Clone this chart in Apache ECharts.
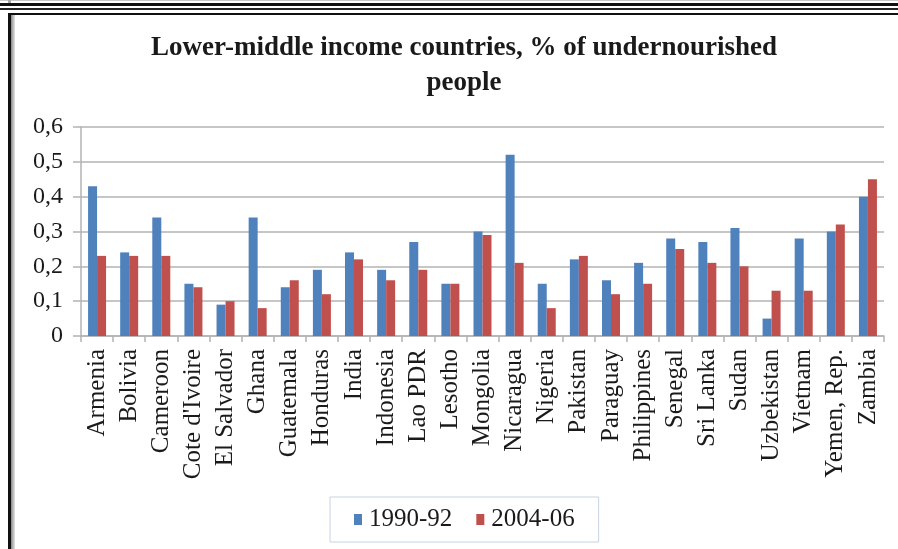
<!DOCTYPE html>
<html>
<head>
<meta charset="utf-8">
<script src="https://cdn.jsdelivr.net/npm/echarts@6/dist/echarts.min.js"></script>
<style>
  html, body { margin: 0; padding: 0; background: #fff; }
  #wrap { position: relative; width: 898px; height: 549px; overflow: hidden; background: #fff; }
  #chart { position: absolute; left: 0; top: 0; width: 898px; height: 549px; }
  .rule { position: absolute; pointer-events: none; }
</style>
</head>
<body>
<div id="wrap">
  <div id="chart"></div>
  <!-- page frame around the chart (scanned document look) -->
  <div class="rule" style="left:0;top:0;width:898px;height:1px;background:#c8c8c8"></div>
  <div class="rule" style="left:8px;top:0;width:3px;height:3px;background:#aaa"></div>
  <div class="rule" style="left:0;top:3px;width:898px;height:3px;background:#111"></div>
  <div class="rule" style="left:0;top:8px;width:898px;height:2px;background:#222"></div>
  <div class="rule" style="left:8px;top:13px;width:890px;height:2px;background:#111"></div>
  <div class="rule" style="left:8px;top:13px;width:3px;height:536px;background:#111"></div>
  <div class="rule" style="left:11px;top:15px;width:4px;height:534px;background:linear-gradient(to right,#8a8a8a,#e4e4e4)"></div>
</div>
<script>
// values
const countries = ['Armenia', 'Bolivia', 'Cameroon', "Cote d'Ivoire", 'El Salvador', 'Ghana',
  'Guatemala', 'Honduras', 'India', 'Indonesia', 'Lao PDR', 'Lesotho', 'Mongolia', 'Nicaragua',
  'Nigeria', 'Pakistan', 'Paraguay', 'Philippines', 'Senegal', 'Sri Lanka', 'Sudan',
  'Uzbekistan', 'Vietnam', 'Yemen, Rep.', 'Zambia'];
const period1990 = [0.43, 0.24, 0.34, 0.15, 0.09, 0.34, 0.14, 0.19, 0.24, 0.19, 0.27, 0.15, 0.30,
  0.52, 0.15, 0.22, 0.16, 0.21, 0.28, 0.27, 0.31, 0.05, 0.28, 0.30, 0.40];
const period2004 = [0.23, 0.23, 0.23, 0.14, 0.10, 0.08, 0.16, 0.12, 0.22, 0.16, 0.19, 0.15, 0.29,
  0.21, 0.08, 0.23, 0.12, 0.15, 0.25, 0.21, 0.20, 0.13, 0.13, 0.32, 0.45];
const seriesNames = ['1990-92', '2004-06'];
const yTicks = [0, 0.1, 0.2, 0.3, 0.4, 0.5, 0.6];

const BLUE = '#4F81BD';
const RED = '#C0504D';
const GRID_GREY = '#b3b3b3';
const FONT = '"Liberation Serif", "Times New Roman", serif';

const chart = echarts.init(document.getElementById('chart'));

chart.setOption({
  animation: false,
  title: {
    text: 'Lower-middle income countries, % of undernourished\npeople',
    left: 464,
    top: 31,
    textAlign: 'center',
    padding: 0,
    textStyle: { fontFamily: FONT, fontSize: 27, fontWeight: 'bold', color: '#1a1a1a', lineHeight: 35 },
  },
  legend: {
    data: seriesNames,
    left: 330,
    top: 497,
    padding: [10, 24],
    itemGap: 24,
    itemWidth: 8,
    itemHeight: 11,
    borderColor: '#c9d3e3',
    borderWidth: 1,
    icon: 'rect',
    textStyle: { fontFamily: FONT, fontSize: 25, color: '#1a1a1a', padding: [0, 0, 0, 2] },
  },
  grid: { left: 81, right: 14, top: 127, bottom: 213, containLabel: false },
  xAxis: {
    type: 'category',
    data: countries,
    axisLine: { lineStyle: { color: GRID_GREY, width: 1.5 } },
    axisTick: { show: true, length: 6, lineStyle: { color: GRID_GREY, width: 1.5 } },
    axisLabel: {
      interval: 0,
      rotate: 90,
      margin: 13,
      fontFamily: FONT,
      fontSize: 25,
      color: '#1a1a1a',
    },
  },
  yAxis: {
    type: 'value',
    min: yTicks[0],
    max: yTicks[yTicks.length - 1],
    interval: 0.1,
    axisLine: { show: true, lineStyle: { color: GRID_GREY, width: 1.5 } },
    axisTick: { show: true, length: 8, lineStyle: { color: GRID_GREY, width: 1.5 } },
    splitLine: { lineStyle: { color: GRID_GREY, width: 1.5 } },
    axisLabel: {
      margin: 18,
      fontFamily: FONT,
      fontSize: 24,
      color: '#1a1a1a',
      formatter: v => (v === 0 ? '0' : v.toFixed(1).replace('.', ',')),
    },
  },
  series: [
    { name: seriesNames[0], type: 'bar', data: period1990, barWidth: 9, barGap: '0%', itemStyle: { color: BLUE } },
    { name: seriesNames[1], type: 'bar', data: period2004, barWidth: 9, itemStyle: { color: RED } },
  ],
});
</script>
</body>
</html>
